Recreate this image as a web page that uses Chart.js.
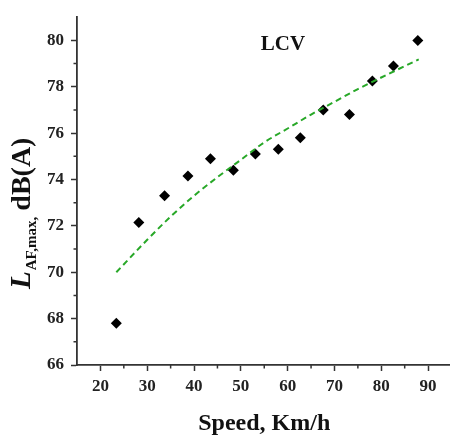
<!DOCTYPE html>
<html>
<head>
<meta charset="utf-8">
<script src="https://cdn.jsdelivr.net/npm/chart.js@4.4.0/dist/chart.umd.min.js"></script>
<style>
  html, body { margin: 0; padding: 0; background: #fff; overflow: hidden; }
  #wrap { width: 460px; height: 445px; }
</style>
</head>
<body>
<div id="wrap"><canvas id="chart" width="460" height="445"></canvas></div>
<script>
// measured maximum A-weighted level for light commercial vehicles
const speeds = [23.4, 28.2, 33.7, 38.7, 43.5, 48.4, 53.1, 58.0, 62.7, 67.6, 73.2, 78.1, 82.6, 87.8];
const levels = [67.8, 72.15, 73.3, 74.15, 74.9, 74.4, 75.1, 75.3, 75.8, 77.0, 76.8, 78.25, 78.9, 80.0];

// fitted trend curve
const trendSpeeds = [23.4, 30, 35, 40, 45, 50, 55, 60, 65, 70, 75, 80, 88];
const trendLevels = [70.0, 71.4, 72.4, 73.3, 74.1, 74.85, 75.6, 76.2, 76.8, 77.35, 77.9, 78.4, 79.18];

const xTicks = [20, 30, 40, 50, 60, 70, 80, 90];
const xMinor = [25, 35, 45, 55, 65, 75, 85];
const yTicks = [66, 68, 70, 72, 74, 76, 78, 80];
const yMinor = [67, 69, 71, 73, 75, 77, 79];

const serif = "'Liberation Serif', 'Times New Roman', serif";
const axisColor = "#333";

// short ticks between the labelled ones
const minorTicks = {
  id: "minorTicks",
  afterDraw(chart) {
    const { ctx, scales: { x, y } } = chart;
    ctx.save();
    ctx.strokeStyle = axisColor;
    ctx.lineWidth = 1.5;
    ctx.beginPath();
    xMinor.forEach((v) => {
      const px = x.getPixelForValue(v);
      ctx.moveTo(px, x.top);
      ctx.lineTo(px, x.top + 3.5);
    });
    yMinor.forEach((v) => {
      const py = y.getPixelForValue(v);
      ctx.moveTo(y.right, py);
      ctx.lineTo(y.right - 3.5, py);
    });
    ctx.stroke();
    ctx.restore();
  },
};

// y title with subscript, plus the LCV tag
const labels = {
  id: "labels",
  afterDraw(chart) {
    const { ctx, scales: { x, y } } = chart;
    ctx.save();
    ctx.fillStyle = "#111";
    ctx.textBaseline = "alphabetic";
    ctx.textAlign = "left";
    ctx.translate(30, 289);
    ctx.rotate(-Math.PI / 2);
    ctx.font = `italic bold 29px ${serif}`;
    ctx.fillText("L", 0, 0);
    let pos = ctx.measureText("L").width + 1;
    ctx.font = `bold 15px ${serif}`;
    ctx.fillText("AF,max,", pos, 6);
    pos += ctx.measureText("AF,max,").width + 6;
    ctx.font = `bold 28px ${serif}`;
    ctx.fillText("dB(A)", pos, 0);
    ctx.restore();

    ctx.save();
    ctx.fillStyle = "#111";
    ctx.font = `bold 21px ${serif}`;
    ctx.textAlign = "center";
    ctx.textBaseline = "middle";
    ctx.fillText("LCV", x.getPixelForValue(59), y.getPixelForValue(79.8));
    ctx.restore();
  },
};

const tickFont = { family: serif, weight: "bold", size: 17 };

new Chart(document.getElementById("chart"), {
  type: "scatter",
  data: {
    datasets: [
      {
        label: "Fit",
        type: "line",
        data: trendSpeeds.map((s, i) => ({ x: s, y: trendLevels[i] })),
        borderColor: "#28a828",
        borderWidth: 2,
        borderDash: [6, 4],
        pointRadius: 0,
        fill: false,
        cubicInterpolationMode: "monotone",
      },
      {
        label: "LCV",
        data: speeds.map((s, i) => ({ x: s, y: levels[i] })),
        pointStyle: "rectRot",
        pointRadius: 5.5,
        backgroundColor: "#000",
        borderColor: "#000",
        borderWidth: 0,
      },
    ],
  },
  options: {
    responsive: false,
    animation: false,
    layout: { padding: { top: 10, right: 8.5, left: 0, bottom: 0 } },
    plugins: {
      legend: { display: false },
      tooltip: { enabled: false },
    },
    scales: {
      x: {
        type: "linear",
        min: 15,
        max: 95,
        afterBuildTicks: (scale) => {
          scale.ticks = xTicks.map((v) => ({ value: v }));
        },
        afterFit: (scale) => {
          scale.height = 80;
        },
        grid: {
          drawOnChartArea: false,
          drawTicks: true,
          tickLength: 6,
          tickColor: axisColor,
          tickWidth: 1.5,
        },
        border: { display: true, color: axisColor, width: 1.8 },
        ticks: { font: tickFont, color: "#222", padding: 5, maxRotation: 0 },
        title: {
          display: true,
          text: "Speed, Km/h",
          font: { family: serif, weight: "bold", size: 24 },
          color: "#111",
          padding: { top: 0, bottom: 7 },
        },
      },
      y: {
        type: "linear",
        min: 66,
        max: 81,
        afterBuildTicks: (scale) => {
          scale.ticks = yTicks.map((v) => ({ value: v }));
        },
        afterFit: (scale) => {
          scale.width = 77;
        },
        grid: {
          drawOnChartArea: false,
          drawTicks: true,
          tickLength: 6,
          tickColor: axisColor,
          tickWidth: 1.5,
        },
        border: { display: true, color: axisColor, width: 1.8 },
        ticks: { font: tickFont, color: "#222", padding: 7 },
      },
    },
  },
  plugins: [minorTicks, labels],
});
</script>
</body>
</html>
